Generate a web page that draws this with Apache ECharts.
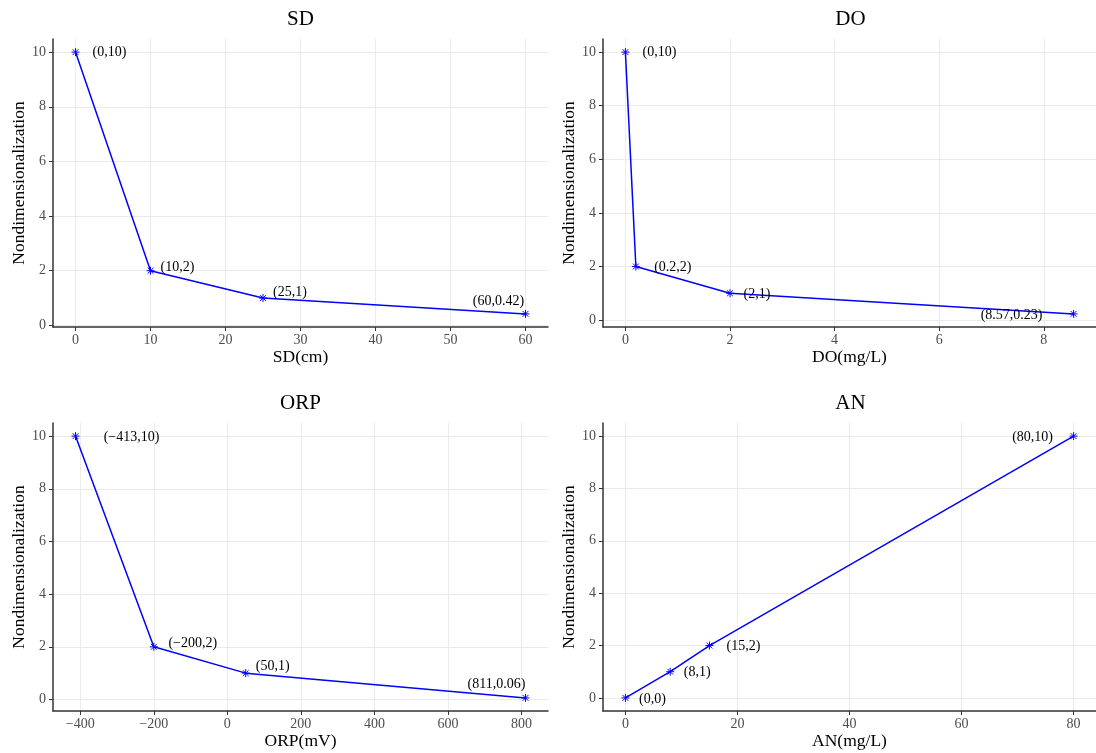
<!DOCTYPE html>
<html lang="en">
<head>
<meta charset="UTF-8">
<title>Nondimensionalization</title>
<style>
  html, body { margin: 0; padding: 0; background: #fff; }
  #main { width: 1096px; height: 753px; }
</style>
<script src="https://cdn.jsdelivr.net/npm/echarts@6/dist/echarts.min.js"></script>
</head>
<body>
<div id="main"></div>
<script>
// values
const sdX = [0, 10, 25, 60];
const sdY = [10, 2, 1, 0.42];
const doX = [0, 0.2, 2, 8.57];
const doY = [10, 2, 1, 0.23];
const orpX = [-413, -200, 50, 811];
const orpY = [10, 2, 1, 0.06];
const anX = [0, 8, 15, 80];
const anY = [0, 1, 2, 10];

// tick labels
const sdTicks = [0, 10, 20, 30, 40, 50, 60];
const doTicks = [0, 2, 4, 6, 8];
const orpTicks = [-400, -200, 0, 200, 400, 600, 800];
const anTicks = [0, 20, 40, 60, 80];
const yTicks = [0, 2, 4, 6, 8, 10];

// label nudges in px (centre of text relative to the point)
const sdShift = [[34, 0], [27, -3], [27, -6], [-27, -13]];
const doShift = [[34, 0], [37, 1], [27, 1], [-62, 1]];
const orpShift = [[56, 1], [39, -3], [27, -7], [-29, -14]];
const anShift = [[27, 1], [27, 1], [34, 1], [-41, 1]];

const serif = 'Liberation Serif';
const minus = v => String(v).replace('-', '\u2212');
// ggplot style 5% padding of the axis range
const expand = vals => {
  const lo = Math.min(...vals), hi = Math.max(...vals), pad = (hi - lo) * 0.05;
  return [lo - pad, hi + pad];
};

const panels = [
  {title: 'SD', xName: 'SD(cm)', xs: sdX, ys: sdY, ticks: sdTicks, shift: sdShift, left: 53, top: 39},
  {title: 'DO', xName: 'DO(mg/L)', xs: doX, ys: doY, ticks: doTicks, shift: doShift, left: 603, top: 39},
  {title: 'ORP', xName: 'ORP(mV)', xs: orpX, ys: orpY, ticks: orpTicks, shift: orpShift, left: 53, top: 423},
  {title: 'AN', xName: 'AN(mg/L)', xs: anX, ys: anY, ticks: anTicks, shift: anShift, left: 603, top: 423}
];
const W = 495, H = 288;

const star = 'path://M0,-5L0,5M-5,0L5,0M-3.6,-3.6L3.6,3.6M-3.6,3.6L3.6,-3.6';

const axisCommon = {
  type: 'value',
  nameLocation: 'middle',
  nameTextStyle: {fontFamily: serif, fontSize: 17.5, color: '#000'},
  axisLine: {show: true, onZero: false, lineStyle: {color: '#333', width: 1.5}},
  splitLine: {show: true, lineStyle: {color: '#ebebeb', width: 1}}
};

const option = {
  backgroundColor: '#fff',
  animation: false,
  title: panels.map(p => ({
    text: p.title,
    left: p.left + W / 2,
    top: p.top - 30,
    padding: 0,
    textAlign: 'center',
    textStyle: {fontFamily: serif, fontSize: 21, fontWeight: 'normal', color: '#000'}
  })),
  grid: panels.map(p => ({left: p.left, top: p.top, width: W, height: H})),
  xAxis: panels.map((p, i) => {
    const [lo, hi] = expand(p.xs);
    return Object.assign({}, axisCommon, {
      gridIndex: i, min: lo, max: hi, name: p.xName, nameGap: 21,
      axisTick: {show: true, length: 4, lineStyle: {color: '#333'}, customValues: p.ticks},
      axisLabel: {customValues: p.ticks, margin: 6, fontFamily: serif, fontSize: 14,
        color: '#4d4d4d', formatter: minus}
    });
  }),
  yAxis: panels.map((p, i) => {
    const [lo, hi] = expand(p.ys);
    return Object.assign({}, axisCommon, {
      gridIndex: i, min: lo, max: hi, name: 'Nondimensionalization', nameGap: 24,
      axisTick: {show: true, length: 4, lineStyle: {color: '#333'}, customValues: yTicks},
      axisLabel: {customValues: yTicks, margin: 7, fontFamily: serif, fontSize: 14, color: '#4d4d4d'}
    });
  }),
  series: panels.map((p, i) => ({
    type: 'line',
    xAxisIndex: i,
    yAxisIndex: i,
    symbol: star,
    symbolSize: 8,
    lineStyle: {color: '#0000ff', width: 1.5},
    itemStyle: {color: '#0000ff', borderColor: '#0000ff', borderWidth: 1},
    label: {
      show: true, position: 'inside', fontFamily: serif, fontSize: 14, color: '#000',
      formatter: d => '(' + minus(d.value[0]) + ',' + d.value[1] + ')'
    },
    data: p.xs.map((x, j) => ({value: [x, p.ys[j]], label: {offset: p.shift[j]}}))
  }))
};

echarts.init(document.getElementById('main')).setOption(option);
</script>
</body>
</html>
